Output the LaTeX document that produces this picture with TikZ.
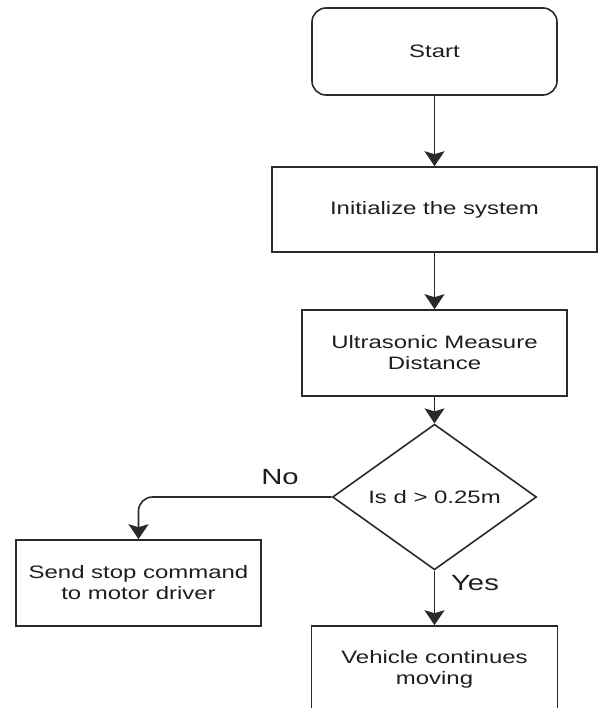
\documentclass[tikz,border=0pt]{standalone}
\usepackage{fontspec}
\setmainfont{Liberation Sans}[FakeStretch=1.33]
\usetikzlibrary{shapes.geometric,arrows.meta}
\definecolor{lc}{HTML}{2A2A2A}
\definecolor{tc}{HTML}{1E1E1E}
\begin{document}
\begin{tikzpicture}[x=1pt,y=-1pt,
  proc/.style={draw=lc, line width=1.6pt, fill=white, align=center,
    text=tc, font=\fontsize{18}{21}\selectfont, inner sep=0pt},
  decis/.style={proc, diamond},
  arr/.style={draw=lc, line width=1.6pt, -{Stealth[length=15pt,width=20pt,inset=3pt]}},
  lab/.style={text=tc, font=\fontsize{22}{24}\selectfont, inner sep=0pt}]
\useasboundingbox (0,0) rectangle (599,708);
\clip (0,0) rectangle (599,708);
\node[proc, rounded corners=14pt, minimum width=245pt, minimum height=87pt] (start) at (434.5,51.5) {Start};
\node[proc, minimum width=325pt, minimum height=85pt] (init) at (434.5,209.5) {Initialize the system};
\node[proc, minimum width=265pt, minimum height=86pt] (ultra) at (434.5,353) {Ultrasonic Measure\\Distance};
\node[decis, minimum width=204pt, minimum height=113pt] (dia) at (434.5,497) {Is d > 0.25m};
\node[proc, minimum width=245pt, minimum height=86pt] (send) at (138.5,583) {Send stop command\\to motor driver};
\node[proc, minimum width=246pt, minimum height=86pt] (veh) at (434.5,669) {Vehicle continues\\moving};
\draw[arr] (start) -- (init);
\draw[arr] (init) -- (ultra);
\draw[arr] (ultra) -- (dia);
\draw[arr, rounded corners=14pt] (dia.west) -| (send.north);
\draw[arr] (dia.south) -- (veh.north);
\node[lab] (no) at (280,477) {No};
\node[lab] (yes) at (475,583) {Yes};
\end{tikzpicture}
\end{document}
